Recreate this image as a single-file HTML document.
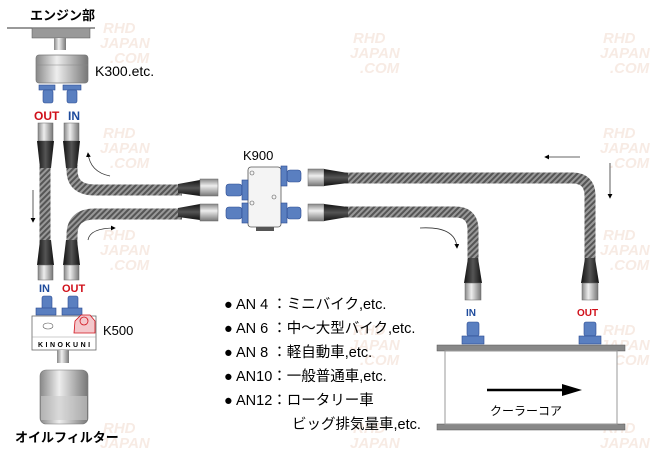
<!DOCTYPE html>
<html><head><meta charset="utf-8"><style>
html,body{margin:0;padding:0;background:#fff;}
svg{display:block;}
text{font-family:"Liberation Sans","Noto Sans CJK JP",sans-serif;}
</style></head><body>
<svg width="657" height="453" viewBox="0 0 657 453" xmlns="http://www.w3.org/2000/svg">
<defs>
<pattern id="br" width="4" height="4" patternUnits="userSpaceOnUse" patternTransform="rotate(45)">
<rect width="4" height="4" fill="#555"/><rect width="2" height="4" fill="#999"/>
</pattern>
<linearGradient id="sil" x1="0" x2="1"><stop offset="0" stop-color="#888"/><stop offset="0.4" stop-color="#eee"/><stop offset="1" stop-color="#777"/></linearGradient>
<linearGradient id="silv" x1="0" x2="0" y1="0" y2="1"><stop offset="0" stop-color="#888"/><stop offset="0.4" stop-color="#eee"/><stop offset="1" stop-color="#777"/></linearGradient>
<linearGradient id="blk" x1="0" x2="1"><stop offset="0" stop-color="#111"/><stop offset="0.5" stop-color="#555"/><stop offset="1" stop-color="#111"/></linearGradient>
<linearGradient id="blkv" x1="0" x2="0" y1="0" y2="1"><stop offset="0" stop-color="#111"/><stop offset="0.5" stop-color="#555"/><stop offset="1" stop-color="#111"/></linearGradient>
<marker id="ah" markerWidth="6" markerHeight="6" refX="5" refY="3" orient="auto"><path d="M0,0 L6,3 L0,6z" fill="#000"/></marker>
</defs>

<!-- watermarks -->
<g fill="#f5e3da" font-weight="bold" font-style="italic" font-size="15" opacity="0.7">
<text x="103" y="33">RHD</text><text x="100" y="48">JAPAN</text><text x="110" y="63">.COM</text>
<text x="103" y="138">RHD</text><text x="100" y="153">JAPAN</text><text x="110" y="168">.COM</text>
<text x="103" y="240">RHD</text><text x="100" y="255">JAPAN</text><text x="110" y="270">.COM</text>
<text x="103" y="433">RHD</text><text x="100" y="448">JAPAN</text>
<text x="353" y="43">RHD</text><text x="350" y="58">JAPAN</text><text x="360" y="73">.COM</text>
<text x="603" y="43">RHD</text><text x="600" y="58">JAPAN</text><text x="610" y="73">.COM</text>
<text x="603" y="138">RHD</text><text x="600" y="153">JAPAN</text><text x="610" y="168">.COM</text>
<text x="603" y="240">RHD</text><text x="600" y="255">JAPAN</text><text x="610" y="270">.COM</text>
<text x="603" y="335">RHD</text><text x="600" y="350">JAPAN</text><text x="610" y="365">.COM</text>
<text x="603" y="433">RHD</text><text x="600" y="448">JAPAN</text>
<text x="353" y="433">RHD</text><text x="350" y="448">JAPAN</text>
<text x="353" y="335">RHD</text><text x="350" y="350">JAPAN</text><text x="360" y="365">.COM</text>
</g>

<!-- engine -->
<text x="30" y="20" font-size="13" font-weight="bold">エンジン部</text>
<line x1="7" y1="28" x2="95" y2="28" stroke="#333" stroke-width="1"/>
<rect x="32" y="28" width="58" height="10" fill="#999" stroke="#555" stroke-width="0.5"/>
<rect x="54" y="38" width="12" height="12" fill="url(#sil)"/>
<rect x="36" y="55" width="52" height="28" rx="3" fill="url(#sil)" stroke="#777" stroke-width="0.7"/>
<line x1="36" y1="65" x2="88" y2="65" stroke="#888" stroke-width="0.6"/>
<text x="95" y="76" font-size="14">K300.etc.</text>
<g fill="#5a7fc0" stroke="#2a4a90" stroke-width="0.6">
<rect x="39" y="85" width="16" height="5"/><rect x="63" y="85" width="18" height="5"/>
<rect x="43" y="90" width="10" height="13" rx="2"/><rect x="67" y="90" width="10" height="13" rx="2"/>
</g>
<text x="34" y="120" font-size="12" fill="#d0101a" font-weight="bold">OUT</text>
<text x="68" y="120" font-size="12" fill="#1d4a9c" font-weight="bold">IN</text>

<!-- hoses -->
<g fill="none" stroke="url(#br)" stroke-width="11">
<path d="M45,165 L45,245"/>
<path d="M72,165 L72,170 Q72,190 95,190 L182,190"/>
<path d="M72,245 L72,235 Q72,214 95,214 L182,214"/>
<path d="M345,178 L572,178 Q590,178 590,196 L590,270"/>
<path d="M345,212 L455,212 Q473,212 473,230 L473,262"/>
</g>
<rect x="38" y="123" width="15" height="18" fill="url(#sil)" stroke="#666" stroke-width="0.5"/>
<rect x="64" y="123" width="15" height="18" fill="url(#sil)" stroke="#666" stroke-width="0.5"/>
<path d="M37,141 L54,141 L51,168 L40,168z" fill="url(#blk)"/>
<path d="M63,141 L80,141 L77,168 L66,168z" fill="url(#blk)"/>
<path d="M40,240 L51,240 L54,265 L37,265z" fill="url(#blk)"/>
<path d="M66,240 L77,240 L80,265 L63,265z" fill="url(#blk)"/>
<rect x="38" y="265" width="15" height="15" fill="url(#sil)" stroke="#666" stroke-width="0.5"/>
<rect x="64" y="265" width="15" height="15" fill="url(#sil)" stroke="#666" stroke-width="0.5"/>
<path d="M178,184 L200,180 L200,196 L178,193z" fill="url(#blkv)"/>
<path d="M178,208 L200,204 L200,220 L178,217z" fill="url(#blkv)"/>
<rect x="200" y="179" width="18" height="17" fill="url(#silv)" stroke="#666" stroke-width="0.5"/>
<rect x="200" y="204" width="18" height="17" fill="url(#silv)" stroke="#666" stroke-width="0.5"/>
<rect x="308" y="169" width="16" height="17" fill="url(#silv)" stroke="#666" stroke-width="0.5"/>
<rect x="308" y="204" width="16" height="17" fill="url(#silv)" stroke="#666" stroke-width="0.5"/>
<path d="M324,169 L348,173 L348,183 L324,186z" fill="url(#blkv)"/>
<path d="M324,204 L348,207 L348,217 L324,221z" fill="url(#blkv)"/>

<!-- K900 -->
<text x="243" y="160" font-size="13">K900</text>
<rect x="248" y="167" width="33" height="60" rx="3" fill="#f4f4f4" stroke="#555" stroke-width="0.8"/>
<rect x="256" y="227" width="18" height="4" fill="#555"/>
<circle cx="252" cy="173" r="2" fill="none" stroke="#555" stroke-width="0.6"/>
<circle cx="252" cy="203" r="2" fill="none" stroke="#555" stroke-width="0.6"/>
<circle cx="274" cy="197" r="2" fill="none" stroke="#555" stroke-width="0.6"/>
<g fill="#5a7fc0" stroke="#2a4a90" stroke-width="0.6">
<rect x="226" y="184" width="16" height="12" rx="3"/><rect x="242" y="180" width="6" height="20"/>
<rect x="226" y="207" width="16" height="12" rx="3"/><rect x="242" y="203" width="6" height="20"/>
<rect x="287" y="170" width="14" height="12" rx="3"/><rect x="281" y="166" width="6" height="20"/>
<rect x="287" y="207" width="14" height="12" rx="3"/><rect x="281" y="203" width="6" height="20"/>
</g>

<!-- cooler -->
<path d="M468,258 L478,258 L482,283 L464,283z" fill="url(#blk)"/>
<path d="M585,258 L595,258 L599,283 L581,283z" fill="url(#blk)"/>
<rect x="465" y="283" width="16" height="17" fill="url(#sil)" stroke="#666" stroke-width="0.5"/>
<rect x="582" y="283" width="16" height="17" fill="url(#sil)" stroke="#666" stroke-width="0.5"/>
<text x="466" y="316" font-size="10" fill="#1d4a9c" font-weight="bold">IN</text>
<text x="577" y="316" font-size="10" fill="#d0101a" font-weight="bold">OUT</text>
<g fill="#5a7fc0" stroke="#2a4a90" stroke-width="0.6">
<rect x="467" y="322" width="12" height="14" rx="2"/><rect x="462" y="336" width="22" height="8"/>
<rect x="584" y="322" width="12" height="14" rx="2"/><rect x="579" y="336" width="22" height="8"/>
</g>
<rect x="437" y="345" width="188" height="6" fill="#888" stroke="#555" stroke-width="0.5"/>
<rect x="437" y="424" width="188" height="6" fill="#888" stroke="#555" stroke-width="0.5"/>
<rect x="445" y="351" width="172" height="73" fill="#fff" stroke="#999" stroke-width="1"/>
<line x1="487" y1="390" x2="565" y2="390" stroke="#000" stroke-width="2.5"/>
<path d="M562,384 L582,390 L562,396z" fill="#000"/>
<text x="490" y="415" font-size="12">クーラーコア</text>

<!-- flow arrows -->
<g fill="none" stroke="#333" stroke-width="0.8" marker-end="url(#ah)">
<path d="M33,190 L33,222"/>
<path d="M110,176 Q90,172 88,153"/>
<path d="M88,240 Q90,228 115,228"/>
<path d="M610,163 L610,198"/>
<path d="M580,157 L545,157"/>
<path d="M420,228 Q456,226 457,248"/>
</g>

<!-- K500 -->
<g fill="#5a7fc0" stroke="#2a4a90" stroke-width="0.6">
<rect x="42" y="296" width="10" height="14" rx="2"/><rect x="36" y="308" width="20" height="7"/>
<rect x="68" y="296" width="10" height="14" rx="2"/><rect x="62" y="308" width="20" height="7"/>
</g>
<text x="39" y="292" font-size="11" fill="#1d4a9c" font-weight="bold">IN</text>
<text x="62" y="292" font-size="11" fill="#d0101a" font-weight="bold">OUT</text>
<rect x="32" y="316" width="64" height="34" fill="#fff" stroke="#666" stroke-width="0.8"/>
<line x1="32" y1="337" x2="96" y2="337" stroke="#999" stroke-width="0.5"/>
<ellipse cx="48" cy="326" rx="5" ry="3" fill="none" stroke="#555" stroke-width="0.6"/>
<polygon points="75,321 81,315 90,315 95,321 95,333 74,333" fill="#f4c8cc" stroke="#d0101a" stroke-width="0.8"/>
<circle cx="84" cy="321" r="4" fill="none" stroke="#d0101a" stroke-width="0.8"/>
<text x="38" y="347" font-size="7" letter-spacing="2.5" font-weight="bold">KINOKUNI</text>
<text x="103" y="335" font-size="13">K500</text>
<rect x="57" y="350" width="12" height="13" fill="url(#sil)"/>
<rect x="40" y="370" width="48" height="54" rx="6" fill="url(#sil)" stroke="#777" stroke-width="0.6"/>
<rect x="41" y="396" width="46" height="24" fill="#ccc" opacity="0.6"/>
<text x="15" y="442" font-size="13" font-weight="bold">オイルフィルター</text>

<!-- list -->
<g font-size="14.5" fill="#000">
<text x="224" y="309">● AN 4 ：ミニバイク,etc.</text>
<text x="224" y="333">● AN 6 ：中～大型バイク,etc.</text>
<text x="224" y="357">● AN 8 ：軽自動車,etc.</text>
<text x="224" y="381">● AN10：一般普通車,etc.</text>
<text x="224" y="405">● AN12：ロータリー車</text>
<text x="292" y="429">ビッグ排気量車,etc.</text>
</g>
</svg>
</body></html>
